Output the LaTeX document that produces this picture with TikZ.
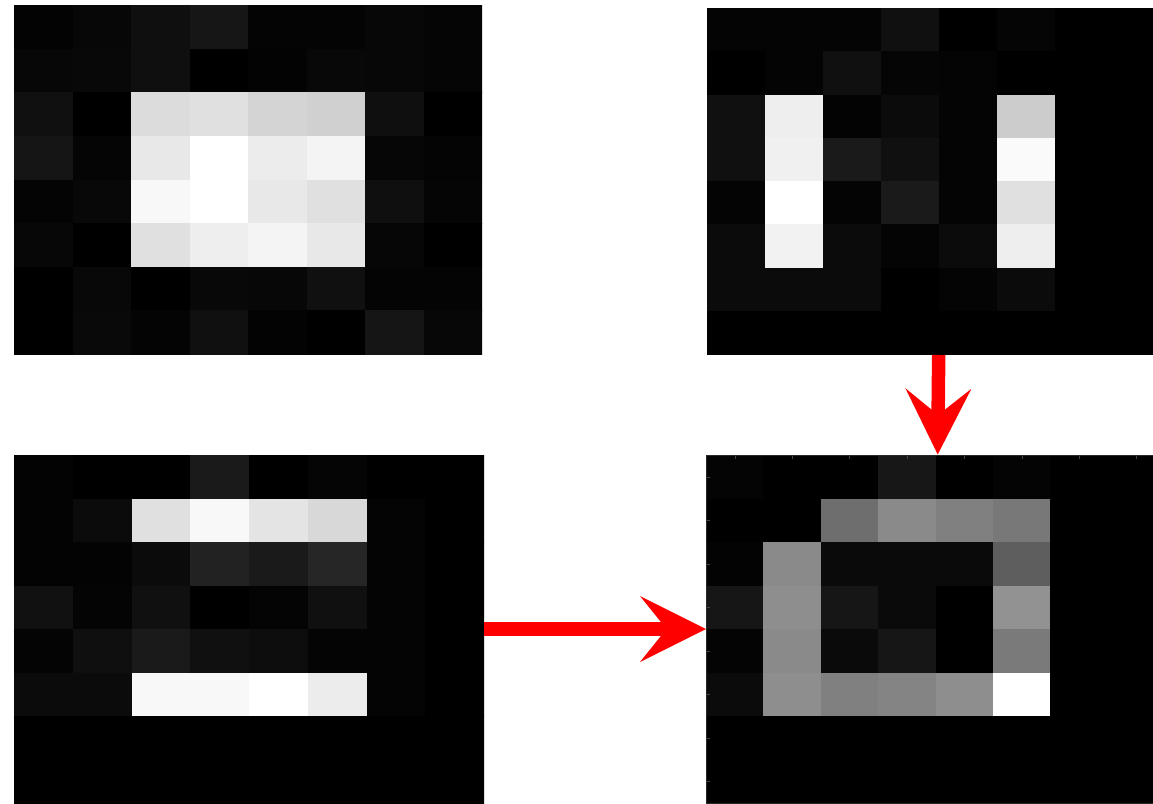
\documentclass[tikz,border=0pt]{standalone}
\usetikzlibrary{arrows.meta,fit}
\tikzset{
  redarrow/.style={draw=red, line width=13.5pt,
    -{Stealth[length=66pt,width=66pt,inset=26.5pt,line width=0pt]}},
  panelbox/.style={inner sep=0pt, outer sep=0pt},
  tickmark/.style={draw={rgb,255:red,70;green,70;blue,70}, line width=0.8pt},
  frameline/.style={draw={rgb,255:red,40;green,40;blue,40}, line width=0.8pt}
}
% #1 name, #2 x0, #3 y0, #4 x1, #5 y1, #6 cell width, #7 cell height, #8 rows
\newcommand\drawpanel[8]{%
  \fill[black] (#2,#3) rectangle (#4,#5);
  \begin{scope}
    \clip (#2,#3) rectangle (#4,#5);
    \foreach \rowvals [count=\r from 0] in {#8} {
      \foreach \v [count=\c from 0] in \rowvals {
        \pgfmathsetmacro\gv{\v/255}
        \definecolor{pix}{gray}{\gv}
        \fill[pix] ({#2+\c*#6},{#3+\r*#7}) rectangle ({#2+(\c+1)*#6+0.5},{#3+(\r+1)*#7+0.5});
      }
    }
  \end{scope}
  \node[panelbox, fit={(#2,#3) (#4,#5)}] (#1) {};
}
\begin{document}
\begin{tikzpicture}[x=1pt,y=-1pt]
\useasboundingbox (0,0) rectangle (1153,803);
\fill[white] (0,0) rectangle (1153,803);

% top-left
\drawpanel{tl}{14}{5}{482}{354}{58.5}{43.625}{
 {3,7,15,22,4,4,7,5},
 {7,8,15,0,3,8,7,5},
 {16,0,220,224,212,208,15,0},
 {21,5,232,255,236,244,6,4},
 {4,8,248,255,232,224,15,5},
 {7,0,224,238,244,232,6,0},
 {0,8,0,8,7,16,4,4},
 {0,9,4,16,3,0,21,7}}

% top-right
\drawpanel{tr}{707}{8}{1153}{354}{58}{43.25}{
 {4,4,4,16,0,5,0,0},
 {0,4,16,5,4,0,0,0},
 {16,238,3,11,4,204,0,0},
 {16,240,26,16,4,250,0,0},
 {4,255,4,26,4,224,0,0},
 {11,242,11,4,11,238,0,0},
 {11,11,11,0,4,11,0,0},
 {0,0,0,0,0,0,0,0}}

% bottom-left
\drawpanel{bl}{14}{455}{484}{803}{58.75}{43.5}{
 {3,0,0,26,0,5,0,0},
 {3,11,224,248,228,216,4,0},
 {3,3,11,34,26,38,4,0},
 {17,4,16,0,4,16,4,0},
 {4,15,26,16,13,4,4,0},
 {11,11,248,248,255,236,4,0},
 {0,0,0,0,0,0,0,0},
 {0,0,0,0,0,0,0,0}}

% bottom-right
\drawpanel{br}{706}{455}{1153}{803}{57.4}{43.5}{
 {4,0,0,23,0,4,0,0},
 {0,0,110,138,128,120,0,0},
 {3,138,10,10,10,94,0,0},
 {22,142,22,10,0,146,0,0},
 {4,138,10,22,0,122,0,0},
 {11,142,128,132,142,255,0,0},
 {0,0,0,0,0,0,0,0},
 {0,0,0,0,0,0,0,0}}

% frame and ticks of the result panel
\draw[frameline] (br.north west) rectangle (br.south east);
\foreach \i in {0,...,7} {
  \draw[tickmark] ({735+\i*57.4},455.5) -- ++(0,3.5);
  \draw[tickmark] (706.5,{477+\i*43.5}) -- ++(3.5,0);
}

% arrows
\coordinate (dtop) at (938.7,355);
\coordinate (dtip) at (937.7,454.5);
\draw[redarrow] (dtop) -- (dtip);
\draw[redarrow] (bl.east) -- (br.west);
\end{tikzpicture}
\end{document}
